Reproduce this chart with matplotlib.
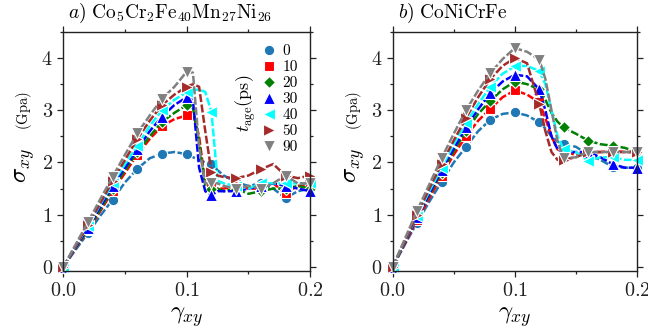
import numpy as np
import matplotlib
matplotlib.use('Agg')
from matplotlib import pyplot as plt
from matplotlib.lines import Line2D
from matplotlib.ticker import MultipleLocator

plt.rcParams['font.family'] = ['cmr10', 'DejaVu Serif']
plt.rcParams['mathtext.fontset'] = 'cm'
plt.rcParams['axes.unicode_minus'] = False
plt.rcParams['axes.formatter.use_mathtext'] = True

# aging times and styles of the series
ages = ['0', '10', '20', '30', '40', '50', '90']
colors = ['#1f77b4', 'red', 'green', 'blue', 'cyan', 'brown', 'gray']
markers = ['o', 's', 'D', '^', '<', '>', 'v']

# panel a: Co5Cr2Fe40Mn27Ni26
strain_a = [0.0, 0.01, 0.02, 0.03, 0.04, 0.05, 0.06, 0.07, 0.08, 0.09, 0.10,
            0.105, 0.11, 0.115, 0.12, 0.125, 0.13,
            0.14, 0.15, 0.16, 0.17, 0.18, 0.19, 0.20]
stress_a_0 = [0, 0.33, 0.65, 0.98, 1.29, 1.62, 1.88, 2.08, 2.17, 2.20, 2.16,
              2.10, 2.05, 2.00, 1.98, 1.85, 1.75, 1.62, 1.55, 1.60, 1.50, 1.32, 1.45, 1.50]
stress_a_10 = [0, 0.36, 0.70, 1.07, 1.45, 1.80, 2.15, 2.45, 2.70, 2.83, 2.90,
               2.95, 2.50, 1.60, 1.55, 1.50, 1.50, 1.55, 1.50, 1.50, 1.60, 1.42, 1.55, 1.60]
stress_a_20 = [0, 0.37, 0.72, 1.10, 1.50, 1.85, 2.20, 2.50, 2.78, 2.95, 3.10,
               3.05, 2.40, 1.55, 1.50, 1.50, 1.45, 1.50, 1.40, 1.45, 1.50, 1.50, 1.55, 1.50]
stress_a_30 = [0, 0.38, 0.75, 1.15, 1.55, 1.90, 2.25, 2.60, 2.88, 3.10, 3.25,
               3.20, 1.90, 1.45, 1.37, 1.45, 1.45, 1.45, 1.50, 1.55, 1.60, 1.55, 1.50, 1.45]
stress_a_40 = [0, 0.40, 0.78, 1.20, 1.60, 1.97, 2.32, 2.70, 3.00, 3.20, 3.35,
               3.38, 3.40, 3.35, 2.97, 1.65, 1.60, 1.55, 1.50, 1.60, 1.60, 1.60, 1.60, 1.60]
stress_a_50 = [0, 0.40, 0.80, 1.22, 1.65, 2.05, 2.45, 2.80, 3.10, 3.30, 3.45,
               3.50, 3.45, 2.60, 1.82, 1.75, 1.72, 1.70, 1.75, 1.87, 1.97, 1.75, 1.70, 1.75]
stress_a_90 = [0, 0.43, 0.86, 1.30, 1.73, 2.15, 2.56, 2.90, 3.22, 3.45, 3.74,
               3.72, 2.30, 1.60, 1.60, 1.60, 1.55, 1.50, 1.55, 1.50, 1.60, 1.75, 1.60, 1.60]

# panel b: CoNiCrFe
strain_b = [0.0, 0.01, 0.02, 0.03, 0.04, 0.05, 0.06, 0.07, 0.08, 0.09, 0.10,
            0.11, 0.12, 0.125, 0.13, 0.135,
            0.14, 0.15, 0.16, 0.17, 0.18, 0.19, 0.20]
stress_b_0 = [0, 0.43, 0.85, 1.25, 1.63, 2.00, 2.30, 2.60, 2.82, 2.93, 2.96,
              2.90, 2.77, 2.65, 2.50, 2.40, 2.35, 2.30, 2.15, 2.05, 1.92, 1.90, 1.90]
stress_b_10 = [0, 0.45, 0.90, 1.32, 1.75, 2.15, 2.50, 2.80, 3.03, 3.25, 3.38,
               3.30, 3.15, 2.85, 2.50, 2.25, 2.20, 2.15, 2.20, 2.20, 2.22, 2.20, 2.20]
stress_b_20 = [0, 0.47, 0.95, 1.38, 1.80, 2.22, 2.60, 2.93, 3.18, 3.40, 3.55,
               3.50, 3.40, 3.20, 2.95, 2.78, 2.67, 2.55, 2.42, 2.35, 2.32, 2.28, 2.20]
stress_b_30 = [0, 0.48, 0.95, 1.40, 1.85, 2.27, 2.67, 3.02, 3.33, 3.55, 3.68,
               3.65, 3.40, 3.00, 2.50, 2.25, 2.20, 2.20, 2.20, 2.10, 1.97, 1.90, 1.90]
stress_b_40 = [0, 0.50, 0.98, 1.45, 1.90, 2.35, 2.75, 3.12, 3.45, 3.70, 3.84,
               3.85, 3.75, 3.50, 3.00, 2.50, 2.25, 2.20, 2.03, 2.10, 2.10, 2.05, 2.05]
stress_b_50 = [0, 0.50, 1.00, 1.50, 1.97, 2.42, 2.85, 3.25, 3.60, 3.85, 4.00,
               3.90, 3.12, 2.60, 2.20, 2.05, 2.05, 2.10, 2.20, 2.20, 2.20, 2.20, 2.20]
stress_b_90 = [0, 0.54, 1.08, 1.58, 2.08, 2.55, 3.00, 3.38, 3.71, 3.98, 4.19,
               4.12, 3.97, 3.60, 3.00, 2.40, 2.08, 2.10, 2.20, 2.20, 2.20, 2.20, 2.20]

panels = [
    (strain_a, [stress_a_0, stress_a_10, stress_a_20, stress_a_30,
                stress_a_40, stress_a_50, stress_a_90],
     r'$a)\ \mathrm{Co_5Cr_2Fe_{40}Mn_{27}Ni_{26}}$'),
    (strain_b, [stress_b_0, stress_b_10, stress_b_20, stress_b_30,
                stress_b_40, stress_b_50, stress_b_90],
     r'$b)\ \mathrm{CoNiCrFe}$'),
]

fig = plt.figure(figsize=(6.48, 3.29), dpi=100)
axes = [fig.add_axes([0.0977, 0.176, 0.381, 0.727]),
        fig.add_axes([0.606, 0.176, 0.377, 0.727])]

for ax, (strain, series, title) in zip(axes, panels):
    x = np.array(strain)
    mark_idx = [i for i, v in enumerate(x) if np.isclose(round(v / 0.02) * 0.02, v)]
    for s, c, m in zip(series, colors, markers):
        ms = 6.5 if m == 'D' else (8 if m in '^<>v' else 7.5)
        ax.plot(x, s, color=c, lw=1.8, dashes=(3.2, 1.0),
                marker=m, ms=ms, mfc=c, mec='white', mew=0.8,
                markevery=mark_idx, clip_on=False)

    ax.set_xlim(0, 0.2)
    ax.set_ylim(-0.08, 4.5)
    ax.set_xticks([0.0, 0.1, 0.2])
    ax.set_yticks([0, 1, 2, 3, 4])
    ax.xaxis.set_minor_locator(MultipleLocator(0.05))
    ax.yaxis.set_minor_locator(MultipleLocator(0.5))
    ax.tick_params(which='both', direction='out', top=True, right=True,
                   labelsize=14.5, colors='#222222', width=0.9)
    ax.tick_params(which='major', length=4)
    ax.tick_params(which='minor', length=2.2)
    for sp in ax.spines.values():
        sp.set_color('#222222')
        sp.set_linewidth(1.0)

    ax.set_xlabel(r'$\gamma_{xy}$', fontsize=18, labelpad=4)
    ax.text(-0.155, 0.44, r'$\sigma_{xy}$', fontsize=18, rotation=90,
            transform=ax.transAxes, ha='center', va='center')
    ax.text(-0.16, 0.67, r'$(\mathrm{Gpa})$', fontsize=10.5, rotation=90,
            transform=ax.transAxes, ha='center', va='center')
    ax.text(0.02, 1.03, title, fontsize=14, transform=ax.transAxes,
            ha='left', va='bottom')

handles = [Line2D([], [], ls='none', marker=m, color=c, mec='white', mew=0.8,
                  ms=(6.5 if m == 'D' else (8 if m in '^<>v' else 7.5)))
           for c, m in zip(colors, markers)]
axes[0].legend(handles, ages, loc='upper right', bbox_to_anchor=(1.0, 1.0),
               frameon=False, fontsize=11, labelspacing=0.15, handlelength=1.0,
               handletextpad=0.4, borderpad=0.3)
axes[0].text(0.737, 0.70, r'$t_{\mathrm{age}}(\mathrm{ps})$', fontsize=13,
             rotation=90, transform=axes[0].transAxes, ha='center', va='center')

fig.savefig('out.png', dpi=100)
